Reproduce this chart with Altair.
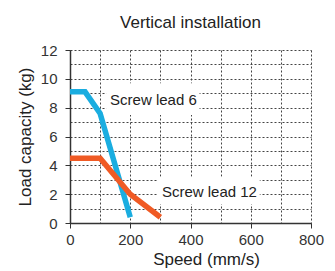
import altair as alt
import pandas as pd

# ---- data ----
speed_lead6 = [0, 50, 100, 200]
load_lead6 = [9.1, 9.1, 7.6, 0.4]
speed_lead12 = [0, 100, 200, 300]
load_lead12 = [4.5, 4.5, 2.0, 0.4]
series_names = ["Screw lead 6", "Screw lead 12"]
series_colors = ["#1AADE0", "#F05A24"]

# annotation labels (data coordinates)
label_text = ["Screw lead 6", "Screw lead 12"]
label_speed = [133, 305]
label_load = [8.55, 2.15]
# white boxes behind labels (data coordinates)
box_speed_lo = [120, 290]
box_speed_hi = [430, 630]
box_load_lo = [7.5, 1.3]
box_load_hi = [9.7, 3.2]

x_grid_values = list(range(0, 801, 100))
y_grid_values = list(range(0, 13, 1))

FONT = "Liberation Sans"

lines_df = pd.DataFrame(
    {
        "speed": speed_lead6 + speed_lead12,
        "load": load_lead6 + load_lead12,
        "series": [series_names[0]] * len(speed_lead6) + [series_names[1]] * len(speed_lead12),
    }
)
labels_df = pd.DataFrame({"text": label_text, "speed": label_speed, "load": label_load})
boxes_df = pd.DataFrame(
    {"speed": box_speed_lo, "s1": box_speed_hi, "load": box_load_lo, "l1": box_load_hi}
)

x_scale = alt.Scale(domain=[0, 800], nice=False)
y_scale = alt.Scale(domain=[0, 12], nice=False)

x_axis = alt.Axis(
    values=x_grid_values,
    labelExpr="datum.value % 200 === 0 ? datum.label : ''",
    tickOpacity={"condition": {"test": "datum.value % 200 === 0", "value": 1}, "value": 0},
    tickSize=5,
    labelPadding=4,
    labelFontSize=15,
    labelFont=FONT,
    labelColor="#333333",
    labelOverlap=False,
    labelFlush=False,
    title="Speed (mm/s)",
    titleFontSize=17,
    titleFont=FONT,
    titleFontWeight="normal",
    titleColor="#222222",
    titleX=136,
    titleY=41,
    titleBaseline="alphabetic",
    grid=True,
    gridDash=[2, 2],
    gridColor="#444444",
    gridWidth=1,
    domainColor="#333333",
    domainWidth=1.5,
    tickColor="#333333",
)
y_axis = alt.Axis(
    values=y_grid_values,
    labelExpr="datum.value % 2 === 0 ? datum.label : ''",
    tickOpacity={"condition": {"test": "datum.value % 2 === 0", "value": 1}, "value": 0},
    tickSize=5,
    labelPadding=8,
    labelFontSize=15,
    labelFont=FONT,
    labelColor="#333333",
    labelOverlap=False,
    labelFlush=False,
    title="Load capacity (kg)",
    titleFontSize=17,
    titleFont=FONT,
    titleFontWeight="normal",
    titleColor="#222222",
    titlePadding=6,
    grid=True,
    gridDash=[2, 2],
    gridColor="#444444",
    gridWidth=1,
    domainColor="#333333",
    domainWidth=1.5,
    tickColor="#333333",
)

X = alt.X("speed:Q", scale=x_scale, axis=x_axis)
Y = alt.Y("load:Q", scale=y_scale, axis=y_axis)

lines = (
    alt.Chart(lines_df)
    .mark_line(strokeWidth=5.5, strokeCap="butt", strokeJoin="miter")
    .encode(
        x=X,
        y=Y,
        color=alt.Color(
            "series:N",
            scale=alt.Scale(domain=series_names, range=series_colors),
            legend=None,
        ),
        detail="series:N",
    )
)

boxes = (
    alt.Chart(boxes_df)
    .mark_rect(color="white")
    .encode(x=X, x2="s1:Q", y=Y, y2="l1:Q")
)

labels = (
    alt.Chart(labels_df)
    .mark_text(align="left", baseline="middle", fontSize=15, font=FONT, color="#222222")
    .encode(x=X, y=Y, text="text:N")
)

chart = (
    alt.layer(boxes, lines, labels)
    .properties(
        width=241,
        height=173,
        autosize=alt.AutoSizeParams(type="none"),
        padding={"left": 62, "top": 42, "right": 16, "bottom": 48},
        title=alt.TitleParams(
            "Vertical installation",
            fontSize=17,
            font=FONT,
            fontWeight="normal",
            color="#222222",
            anchor="middle",
            offset=11,
        ),
    )
    .configure_view(stroke=None)
)

chart.save("out.html", embed_options={"renderer": "svg", "actions": False})
